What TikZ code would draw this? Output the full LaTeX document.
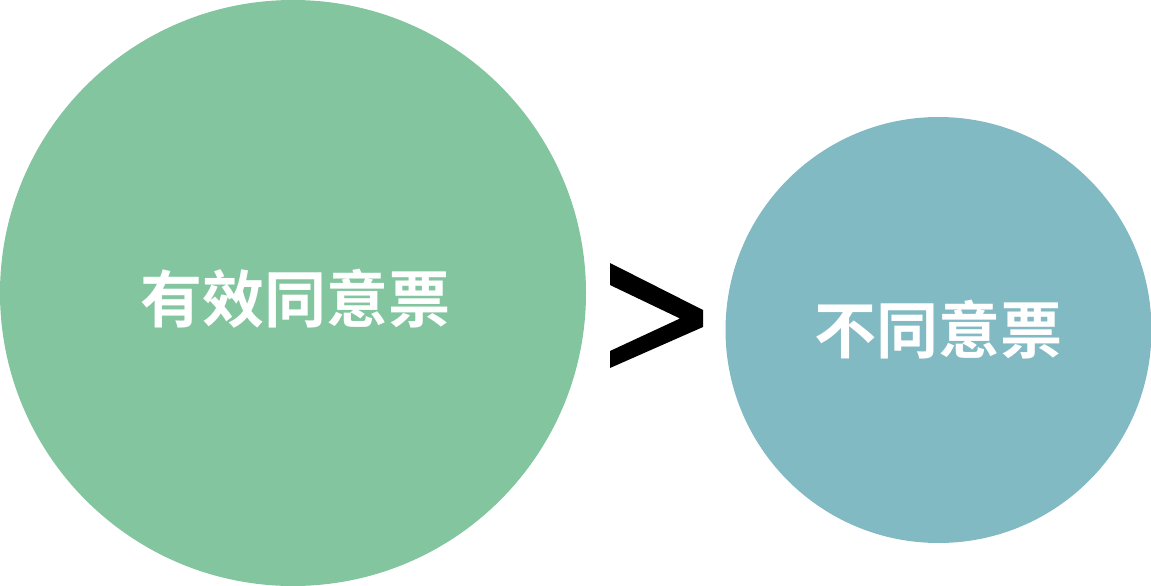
\documentclass[tikz,border=0pt]{standalone}
\usepackage{fontspec}
\newfontfamily\cjk{Noto Sans CJK SC Bold}
\definecolor{cgreen}{HTML}{82C59E}
\definecolor{cteal}{HTML}{82BAC3}
\begin{document}
\begin{tikzpicture}[x=1pt,y=-1pt,
  lbl/.style={text=white,font=\cjk\fontsize{62}{62}\selectfont,inner sep=0pt}]
\useasboundingbox (0,0) rectangle (1151,586);
\fill[cgreen] (293,293) circle[radius=293];
\fill[cteal] (938.5,330) circle[radius=213];
\node[lbl] (a) at (295,299) {有效同意票};
\node[lbl] (b) at (938.5,330) {不同意票};
\fill[black] (610,263) -- (703,310) -- (703,327) -- (610,368) -- (610,351) -- (680,318.5) -- (610,285) -- cycle;
\end{tikzpicture}
\end{document}
